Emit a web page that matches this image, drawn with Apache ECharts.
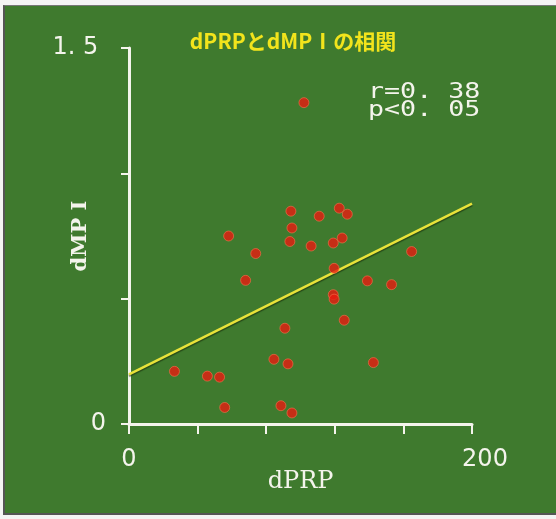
<!DOCTYPE html>
<html><head><meta charset="utf-8">
<script src="https://cdn.jsdelivr.net/npm/echarts@6/dist/echarts.min.js"></script>
<style>
html,body{margin:0;padding:0;background:#f4f4f4;}
#c{position:absolute;left:3px;top:5px;width:553px;height:510px;background:#3f7a2e;border-left:2px solid #555;border-top:1px solid #777;border-bottom:2px solid #555;box-sizing:border-box;}
</style>
</head><body>
<div id="c"></div>
<script>
var dPRP = [102, 94.4, 122.6, 127.3, 110.9, 95.0, 58.1, 93.8, 124.3, 119.1, 106.2, 73.9, 164.8, 119.6, 68.0, 139.0, 153.1, 119.1, 119.6, 125.5, 90.9, 84.5, 92.7, 142.5, 26.5, 45.7, 52.8, 55.8, 88.6, 95.0];
var dMPI = [1.282, 0.849, 0.861, 0.837, 0.829, 0.782, 0.750, 0.728, 0.742, 0.722, 0.710, 0.680, 0.688, 0.621, 0.573, 0.571, 0.556, 0.516, 0.498, 0.414, 0.382, 0.258, 0.240, 0.245, 0.210, 0.191, 0.187, 0.066, 0.073, 0.044];
var fitX = [0, 200];
var fitY = [0.198, 0.879];
var xTickLabels = {0: '0', 200: '{r|200}'};
var yTickLabels = {0: '0', 1.5: '1. 5 '};

var chart = echarts.init(document.getElementById('c'));
var pts = dPRP.map(function(v, i){ return [v, dMPI[i]]; });
var fit = fitX.map(function(v, i){ return [v, fitY[i]]; });
var white = '#f4f4ec';
chart.setOption({
  backgroundColor: 'transparent',
  animation: false,
  title: {
    text: 'dPRPとdMPⅠの相関', left: 283, top: 20, textAlign: 'center',
    textStyle: {color: '#f2e41c', fontSize: 21, fontWeight: 'bold', fontFamily: 'Noto Sans CJK JP'}
  },
  grid: {left: 124, right: 84, top: 42, bottom: 89},
  xAxis: {
    type: 'value', min: 0, max: 200, interval: 40,
    name: 'dPRP', nameLocation: 'middle', nameGap: 46, nameMoveOverlap: false,
    nameTextStyle: {color: white, fontSize: 24, fontFamily: 'DejaVu Serif'},
    axisLine: {show: true, lineStyle: {color: white, width: 3}},
    axisTick: {show: true, length: 10, lineStyle: {color: white, width: 2}},
    axisLabel: {color: white, fontSize: 24, margin: 24, fontFamily: 'DejaVu Sans',
      rich: {r: {fontSize: 24, color: white, fontFamily: 'DejaVu Sans', padding: [0, 0, 0, 26]}},
      formatter: function(v){ return xTickLabels[v] !== undefined ? xTickLabels[v] : ''; }},
    splitLine: {show: false}
  },
  yAxis: {
    type: 'value', min: 0, max: 1.5, interval: 0.5,
    name: 'dMP I', nameLocation: 'middle', nameGap: 38, nameRotate: 90, nameMoveOverlap: false,
    nameTextStyle: {color: white, fontSize: 21, fontFamily: 'DejaVu Serif', fontWeight: 'bold'},
    axisLine: {show: true, lineStyle: {color: white, width: 3}},
    axisTick: {show: true, length: 8, lineStyle: {color: white, width: 2}},
    axisLabel: {color: white, fontSize: 24, margin: 23, fontFamily: 'DejaVu Sans',
      formatter: function(v){ return yTickLabels[v] !== undefined ? yTickLabels[v] : ''; }},
    splitLine: {show: false}
  },
  graphic: [{
    type: 'text', left: 363, top: 76, scaleX: 1.27,
    style: {text: 'r=0. 38\np<0. 05', fill: white, fontSize: 21, lineHeight: 18, fontFamily: 'DejaVu Sans Mono'}
  }],
  series: [{
    type: 'line', data: fit, symbol: 'none', z: 1,
    lineStyle: {color: '#e8e23a', width: 2.5, shadowColor: 'rgba(20,40,10,0.6)', shadowOffsetY: 1.5, shadowBlur: 1}
  }, {
    type: 'scatter', data: pts, symbolSize: 10, z: 3,
    itemStyle: {color: '#e81c10', borderColor: 'rgba(255,120,80,0.7)', borderWidth: 1}
  }]
});
</script>
</body></html>
